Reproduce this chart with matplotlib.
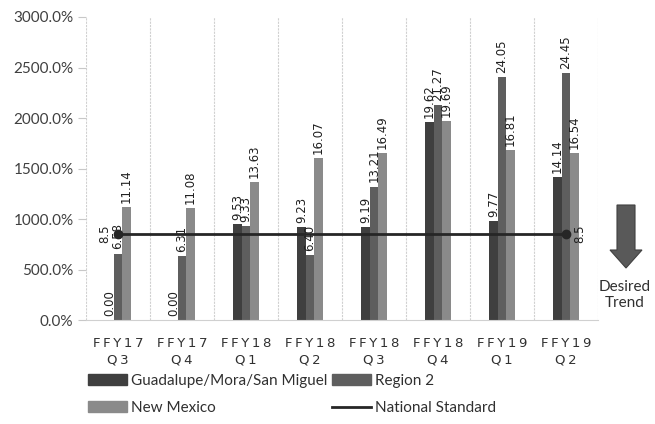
import matplotlib
matplotlib.use("Agg")
import matplotlib.pyplot as plt
import numpy as np
from matplotlib.patches import Polygon, Patch
from matplotlib.lines import Line2D

# data (values shown as labels; bars drawn at value * 100 %)
quarters = ["FFY17\nQ3", "FFY17\nQ4", "FFY18\nQ1", "FFY18\nQ2",
            "FFY18\nQ3", "FFY18\nQ4", "FFY19\nQ1", "FFY19\nQ2"]
guadalupe = [0.00, 0.00, 9.53, 9.23, 9.19, 19.62, 9.77, 14.14]
region2 = [6.58, 6.31, 9.33, 6.40, 13.21, 21.27, 24.05, 24.45]
new_mexico = [11.14, 11.08, 13.63, 16.07, 16.49, 19.69, 16.81, 16.54]
national = [8.5, 8.5, 8.5, 8.5, 8.5, 8.5, 8.5, 8.5]

series = [("Guadalupe/Mora/San Miguel", guadalupe, "#3f3f3f"),
          ("Region 2", region2, "#5e5e5e"),
          ("New Mexico", new_mexico, "#8a8a8a")]

W, H = 655, 424
fig = plt.figure(figsize=(W / 100, H / 100), dpi=100)
ax = fig.add_axes([86 / W, 1 - 320 / H, (598 - 86) / W, (320 - 17) / H])

x = np.arange(len(quarters))
bw = 0.135
label_font = dict(family="DejaVu Sans", size=8.5, color="#202020")

for i, (name, vals, col) in enumerate(series):
    pos = x + (i - 1) * bw
    heights = np.array(vals) * 100
    ax.bar(pos, heights, width=bw, color=col, edgecolor="none", zorder=2)
    for px, v, h in zip(pos, vals, heights):
        ax.annotate(f"{v:.2f}", (px, h), xytext=(0, 3), textcoords="offset points",
                    rotation=90, ha="center", va="bottom", **label_font)

nat = np.array(national) * 100
ax.plot(x, nat, color="#262626", lw=2, zorder=3)
ax.plot([x[0], x[-1]], [nat[0], nat[-1]], "o", color="#262626", ms=6, zorder=4)
ax.annotate(f"{national[0]:g}", (x[0], nat[0]), xytext=(-5, 0), textcoords="offset points",
            rotation=90, ha="right", va="center", **label_font)
ax.annotate(f"{national[-1]:g}", (x[-1], nat[-1]), xytext=(5, 0), textcoords="offset points",
            rotation=90, ha="left", va="center", **label_font)

ax.set_xlim(-0.5, len(quarters) - 0.5)
ax.set_ylim(0, 3000)
ax.set_yticks(np.arange(0, 3001, 500))
ax.set_yticklabels([f"{v:.1f}%" for v in np.arange(0, 3001, 500)],
                   fontfamily="Lato", fontsize=11, color="#404040")
ax.tick_params(axis="y", length=6, color="#c8c8c8", pad=3)

# spaced category labels
spaced = ["\n".join("\u2009".join(part) for part in q.split("\n")) for q in quarters]
ax.set_xticks(x)
ax.set_xticklabels(spaced, fontfamily=["DejaVu Sans"], fontsize=9.5, color="#303030",
                   linespacing=1.35)
ax.tick_params(axis="x", length=0, pad=12)

for b in np.arange(-0.5, len(quarters), 1.0):
    ax.axvline(b, color="#d0d0d0", lw=0.8, ls=(0, (2, 1)), zorder=1)
for s in ["top", "right", "left"]:
    ax.spines[s].set_visible(False)
ax.spines["bottom"].set_color("#d0d0d0")

# desired trend arrow
arrow = [(617, 205), (635, 205), (635, 250), (642, 250), (626, 268),
         (610, 250), (617, 250)]
fig.add_artist(Polygon([(px / W, 1 - py / H) for px, py in arrow], closed=True,
                       transform=fig.transFigure, facecolor="#595959",
                       edgecolor="#404040", lw=0.8))
fig.text(625 / W, 1 - 295 / H, "Desired\nTrend", ha="center", va="center",
         fontfamily="Lato", fontsize=11, color="#303030", linespacing=1.2)

handles = [Patch(color=series[0][2]), Patch(color=series[2][2]),
           Patch(color=series[1][2]), Line2D([], [], color="#262626", lw=2)]
names = [series[0][0], series[2][0], series[1][0], "National Standard"]
fig.legend(handles, names, loc="upper left", bbox_to_anchor=(88 / W, 1 - 374 / H),
           ncol=2, frameon=False, borderpad=0, borderaxespad=0,
           prop=dict(family="Lato", size=11), labelcolor="#303030",
           handlelength=2.55, handleheight=0.7, handletextpad=0.25,
           columnspacing=0.3, labelspacing=0.85)

fig.savefig("out.png", dpi=100)
